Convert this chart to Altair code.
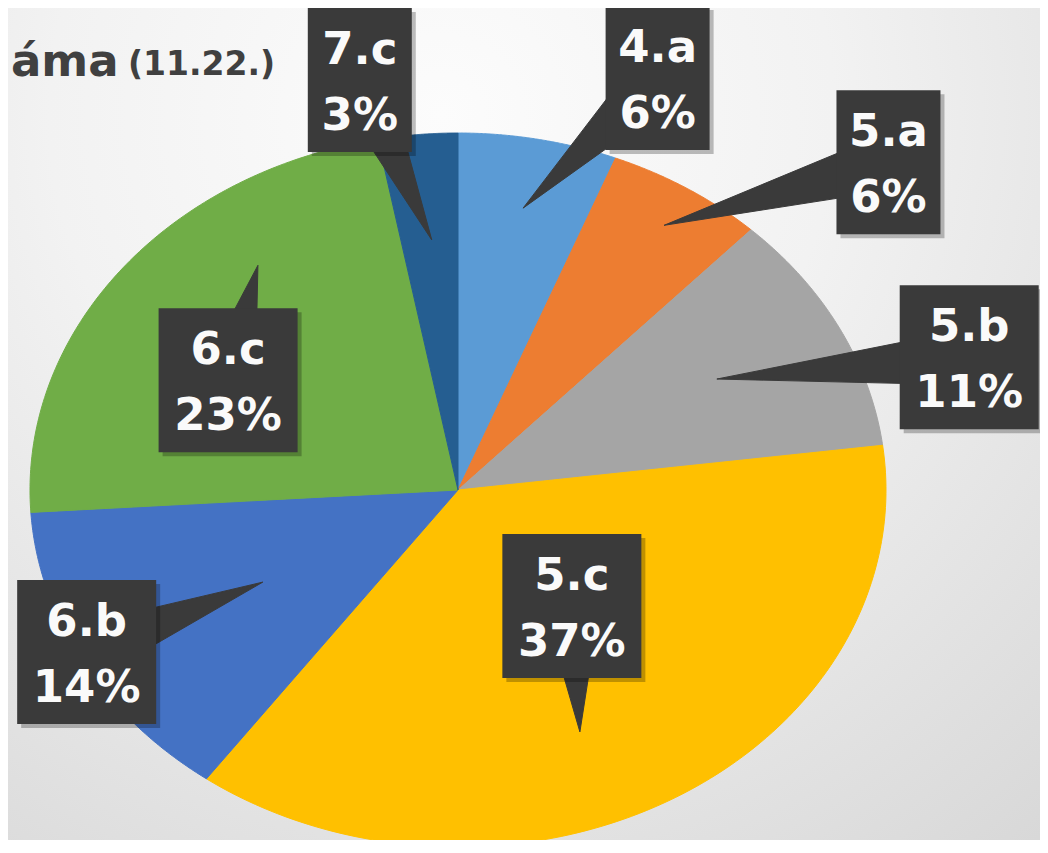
import altair as alt
import pandas as pd

# ---- data -------------------------------------------------------------
categories = ["4.a", "5.a", "5.b", "5.c", "6.b", "6.c", "7.c"]
shares = [6, 6, 11, 37, 14, 23, 3]
colors = ["#5B9BD5", "#ED7D31", "#A5A5A5", "#FFC000", "#4472C4", "#70AD47", "#255E91"]
title_main = "áma"
title_date = "(11.22.)"

# ---- callout layout (radius in pie radii, rotation in degrees from slice middle)
label_r = [1.245, 1.362, 1.251, 0.420, 0.979, 0.619, 1.171]
label_rot = [11.2, 15.2, 9.7, -8.7, 1.2, -8.0, -5.9]
tip_r = [0.804, 0.884, 0.680, 0.735, 0.524, 0.784, 0.703]
tip_rot = [0.1, 0.6, -0.2, 7.8, -0.7, 15.6, 0.4]

# ---- geometry / style -------------------------------------------------
W, H = 1032, 832          # view size
CX, CY = 450, 482         # pie centre inside the view (px)
SX, SY = 428, 357         # pie radii (px), picture is stretched horizontally
BOX = "#3a3a3a"
BH = 144                  # callout box height (px)
HW = 28                   # half width of callout pointer base (px)
FONT = "DejaVu Sans"

df = pd.DataFrame({
    "cat": categories, "value": shares, "idx": list(range(len(categories))),
    "lr": label_r, "lrot": label_rot, "tr": tip_r, "trot": tip_rot,
})

xs = alt.Scale(domain=[-CX / SX, (W - CX) / SX], nice=False, zero=False)
ys = alt.Scale(domain=[-(H - CY) / SY, CY / SY], nice=False, zero=False)
cscale = alt.Scale(domain=categories, range=colors)

# background
bg = alt.Chart(alt.Data(values=[{"a": 1}])).mark_rect(
    fill=alt.RadialGradient(
        gradient="radial",
        stops=[alt.GradientStop(color="#fcfcfc", offset=0),
               alt.GradientStop(color="#f2f2f2", offset=0.4),
               alt.GradientStop(color="#d6d6d6", offset=1)],
        x1=0.42, y1=0.2, r1=0, x2=0.42, y2=0.2, r2=0.95,
    )
).encode(x=alt.value(0), x2=alt.value(W), y=alt.value(0), y2=alt.value(H))

base = alt.Chart(df).transform_joinaggregate(
    total="sum(value)"
).transform_window(
    cum="sum(value)", sort=[alt.SortField("idx", order="ascending")]
).transform_calculate(
    t0="(datum.cum - datum.value) / datum.total",
    t1="datum.cum / datum.total",
    mid="PI * (2 * datum.cum - datum.value) / datum.total",
)

N = 120
pie = base.transform_calculate(
    k=f"sequence(0, {N + 2})"
).transform_flatten(["k"]).transform_calculate(
    a=f"2 * PI * (datum.t0 + (datum.t1 - datum.t0) * max(datum.k - 1, 0) / {N})",
    px="datum.k == 0 ? 0 : sin(datum.a)",
    py="datum.k == 0 ? 0 : cos(datum.a)",
).mark_line(interpolate="linear-closed", strokeWidth=1).encode(
    x=alt.X("px:Q", scale=xs, axis=None),
    y=alt.Y("py:Q", scale=ys, axis=None),
    fill=alt.Fill("cat:N", scale=cscale, legend=None),
    stroke=alt.Stroke("cat:N", scale=cscale, legend=None),
    order=alt.Order("k:Q"),
)

lab = base.transform_calculate(
    la="datum.mid + datum.lrot * PI / 180",
    lx="datum.lr * sin(datum.la)",
    ly="datum.lr * cos(datum.la)",
    ta="datum.mid + datum.trot * PI / 180",
    tx="datum.tr * sin(datum.ta)",
    ty="datum.tr * cos(datum.ta)",
    pct="round(100 * datum.value / datum.total) + '%'",
    bw="34 + 35 * length(datum.pct)",
    bx1=f"datum.lx - datum.bw / 2 / {SX}",
    bx2=f"datum.lx + datum.bw / 2 / {SX}",
    by1=f"datum.ly - {BH / 2} / {SY}",
    by2=f"datum.ly + {BH / 2} / {SY}",
)

tri = lab.transform_calculate(
    dxp=f"(datum.tx - datum.lx) * {SX}",
    dyp=f"(datum.ty - datum.ly) * {SY}",
    L="sqrt(datum.dxp * datum.dxp + datum.dyp * datum.dyp)",
    k="sequence(0, 3)",
).transform_flatten(["k"]).transform_calculate(
    vx=f"datum.k == 0 ? datum.tx : datum.lx + (datum.k == 1 ? 1 : -1) * (-datum.dyp / datum.L) * {HW} / {SX}",
    vy=f"datum.k == 0 ? datum.ty : datum.ly + (datum.k == 1 ? 1 : -1) * (datum.dxp / datum.L) * {HW} / {SY}",
).mark_line(interpolate="linear-closed", fill=BOX, stroke=BOX, strokeWidth=1).encode(
    x=alt.X("vx:Q", scale=xs, axis=None),
    y=alt.Y("vy:Q", scale=ys, axis=None),
    detail="cat:N",
    order=alt.Order("k:Q"),
)

shadow = lab.mark_rect(color="#000000", opacity=0.25, xOffset=4, x2Offset=4, yOffset=4, y2Offset=4).encode(
    x=alt.X("bx1:Q", scale=xs, axis=None), x2="bx2:Q",
    y=alt.Y("by1:Q", scale=ys, axis=None), y2="by2:Q",
)
box = lab.mark_rect(color=BOX).encode(
    x=alt.X("bx1:Q", scale=xs, axis=None), x2="bx2:Q",
    y=alt.Y("by1:Q", scale=ys, axis=None), y2="by2:Q",
)

txt_style = dict(font=FONT, fontWeight="bold", fontSize=45, color="#fafafa", baseline="alphabetic", align="center")
txt1 = lab.mark_text(dy=-16, **txt_style).encode(
    x=alt.X("lx:Q", scale=xs, axis=None), y=alt.Y("ly:Q", scale=ys, axis=None), text="cat:N"
)
txt2 = lab.mark_text(dy=50, **txt_style).encode(
    x=alt.X("lx:Q", scale=xs, axis=None), y=alt.Y("ly:Q", scale=ys, axis=None), text="pct:N"
)

one = alt.Data(values=[{"a": 1}])
title1 = alt.Chart(one).mark_text(
    text=title_main, font=FONT, fontWeight="bold", fontSize=45, color="#404040",
    align="left", baseline="alphabetic"
).encode(x=alt.value(3), y=alt.value(68))
title2 = alt.Chart(one).mark_text(
    text=title_date, font=FONT, fontWeight="bold", fontSize=33, color="#404040",
    align="left", baseline="alphabetic"
).encode(x=alt.value(120), y=alt.value(67))

chart = alt.layer(bg, pie, tri, shadow, box, txt1, txt2, title1, title2).properties(
    width=W, height=H, padding=0, autosize=alt.AutoSizeParams(type="none"),
    background="#ffffff",
).configure_view(stroke=None)

chart.save("out.html", embed_options={"renderer": "svg", "actions": False})
